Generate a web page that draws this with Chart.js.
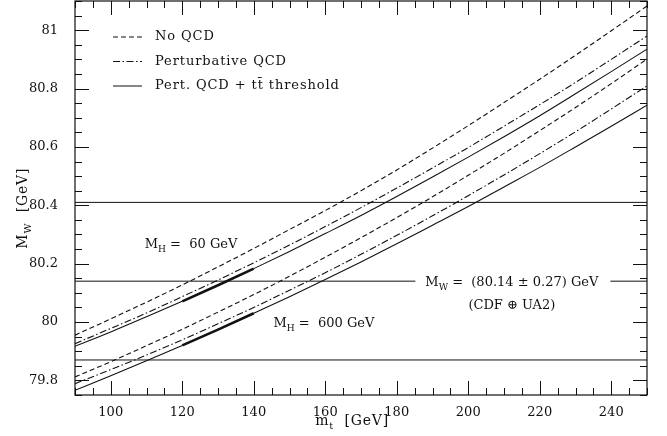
<!DOCTYPE html>
<html>
<head>
<meta charset="utf-8">
<title>M_W vs m_t</title>
<script src="https://cdn.jsdelivr.net/npm/chart.js@4/dist/chart.umd.min.js"></script>
<style>
    html, body { margin: 0; padding: 0; background: #fff; }
    #wrap { width: 667px; height: 436px; position: relative; }
</style>
</head>
<body>
<div id="wrap"><canvas id="mwChart"></canvas></div>
<script>
// ==================== DATA ====================
const topMass = [90, 100, 110, 120, 130, 140, 150, 160, 170, 180, 190, 200, 210, 220, 230, 240, 250];

// M_H = 60 GeV
const noQcd60   = [79.955, 80.011, 80.068, 80.127, 80.189, 80.252, 80.317, 80.382, 80.450, 80.521, 80.596, 80.673, 80.752, 80.832, 80.914, 80.998, 81.083];
const pertQcd60 = [79.926, 79.978, 80.031, 80.087, 80.144, 80.203, 80.264, 80.327, 80.392, 80.459, 80.528, 80.598, 80.671, 80.745, 80.821, 80.900, 80.980];
const thresh60  = [79.917, 79.966, 80.018, 80.071, 80.126, 80.183, 80.242, 80.303, 80.365, 80.430, 80.497, 80.565, 80.635, 80.707, 80.782, 80.858, 80.935];

// M_H = 600 GeV
const noQcd600   = [79.812, 79.864, 79.919, 79.975, 80.034, 80.094, 80.157, 80.222, 80.289, 80.358, 80.429, 80.503, 80.578, 80.656, 80.735, 80.817, 80.901];
const pertQcd600 = [79.789, 79.837, 79.887, 79.939, 79.994, 80.050, 80.109, 80.169, 80.232, 80.297, 80.364, 80.433, 80.504, 80.577, 80.652, 80.730, 80.809];
const thresh600  = [79.766, 79.816, 79.867, 79.920, 79.974, 80.030, 80.087, 80.146, 80.206, 80.268, 80.332, 80.396, 80.463, 80.530, 80.600, 80.671, 80.743];

// measured W mass (CDF + UA2)
const mwMeasured = 80.14;
const mwError = 0.27;

// range where the threshold curves are drawn bold
const thickRange = [120, 140];

const xTickValues = [100, 120, 140, 160, 180, 200, 220, 240];
const yTickValues = [79.8, 80, 80.2, 80.4, 80.6, 80.8, 81];

// ==================== STYLE ====================
const INK = '#111';
const SERIF = '"DejaVu Serif", serif';
const DASHED = [5, 3];
const DASHDOT = [7, 2.5, 1.5, 2.5];

function points(ys) {
    return topMass.map((x, i) => ({ x: x, y: ys[i] }));
}

function hLine(y) {
    return {
        data: [{ x: topMass[0], y: y }, { x: topMass[topMass.length - 1], y: y }],
        borderColor: INK, borderWidth: 1, pointRadius: 0, tension: 0
    };
}

function curve(ys, dash, bold) {
    const ds = {
        data: points(ys),
        borderColor: INK,
        borderWidth: 1.1,
        borderDash: dash,
        pointRadius: 0,
        cubicInterpolationMode: 'monotone'
    };
    if (bold) {
        ds.segment = {
            borderWidth: ctx => (ctx.p0.parsed.x >= thickRange[0] && ctx.p1.parsed.x <= thickRange[1]) ? 2.6 : 1.1
        };
    }
    return ds;
}

// ==================== TEXT HELPERS ====================
// parts: [{t: 'M'}, {t: 'W', sub: true}, ...]
function mathWidth(ctx, parts, size) {
    let w = 0;
    parts.forEach(p => {
        ctx.font = (p.sub ? size * 0.7 : size) + 'px ' + SERIF;
        w += ctx.measureText(p.t).width;
    });
    return w;
}

function drawMath(ctx, parts, x, y, size, align) {
    let cx = x;
    if (align === 'center') cx = x - mathWidth(ctx, parts, size) / 2;
    ctx.textAlign = 'left';
    ctx.textBaseline = 'alphabetic';
    parts.forEach(p => {
        ctx.font = (p.sub ? size * 0.7 : size) + 'px ' + SERIF;
        ctx.fillText(p.t, cx, p.sub ? y + size * 0.3 : y);
        cx += ctx.measureText(p.t).width;
    });
}

// ==================== DECORATIONS ====================
const decorations = {
    id: 'decorations',
    afterDatasetsDraw(chart) {
        const ctx = chart.ctx;
        const area = chart.chartArea;
        const xs = chart.scales.x;
        const ys = chart.scales.y;
        ctx.save();
        ctx.fillStyle = INK;
        ctx.strokeStyle = INK;

        // measured value label, with the line broken behind it
        const mwParts = [{ t: 'M' }, { t: 'W', sub: true }, { t: ' =  (80.14 ± 0.27) GeV' }];
        const mwX = xs.getPixelForValue(188);
        const mwY = ys.getPixelForValue(mwMeasured);
        const mwW = mathWidth(ctx, mwParts, 13);
        ctx.fillStyle = '#fff';
        ctx.fillRect(mwX - 10, mwY - 4, mwW + 22, 8);
        ctx.fillStyle = INK;
        drawMath(ctx, mwParts, mwX, mwY + 5, 13, 'left');
        drawMath(ctx, [{ t: '(CDF ⊕ UA2)' }], mwX + mwW / 2, mwY + 28, 13, 'center');

        // Higgs mass labels
        drawMath(ctx, [{ t: 'M' }, { t: 'H', sub: true }, { t: ' =  60 GeV' }],
            xs.getPixelForValue(109.5), ys.getPixelForValue(80.255), 13, 'left');
        drawMath(ctx, [{ t: 'M' }, { t: 'H', sub: true }, { t: ' =  600 GeV' }],
            xs.getPixelForValue(145.5), ys.getPixelForValue(79.983), 13, 'left');

        // legend
        const legend = [
            [DASHED, 'No QCD'],
            [DASHDOT, 'Perturbative QCD'],
            [[], 'Pert. QCD + tt\u0304 threshold']
        ];
        ctx.font = '13px ' + SERIF;
        ctx.textBaseline = 'middle';
        ctx.textAlign = 'left';
        ctx.letterSpacing = '0.9px';
        legend.forEach((row, i) => {
            const y = area.top + 36 + i * 24.5;
            ctx.beginPath();
            ctx.setLineDash(row[0]);
            ctx.lineWidth = 1;
            ctx.moveTo(area.left + 38, y);
            ctx.lineTo(area.left + 67, y);
            ctx.stroke();
            ctx.fillText(row[1], area.left + 80, y);
        });
        ctx.letterSpacing = '0px';
        ctx.setLineDash([]);

        // frame
        ctx.lineWidth = 1.2;
        ctx.strokeRect(area.left, area.top, area.right - area.left, area.bottom - area.top);

        // inward ticks on all four sides
        ctx.lineWidth = 1;
        ctx.beginPath();
        for (let v = 90; v <= 250; v += 5) {
            const px = Math.round(xs.getPixelForValue(v)) + 0.5;
            const len = v % 20 === 0 ? 14 : 7;
            ctx.moveTo(px, area.bottom); ctx.lineTo(px, area.bottom - len);
            ctx.moveTo(px, area.top); ctx.lineTo(px, area.top + len);
        }
        for (let k = 0; k <= 27; k++) {
            const v = 79.75 + k * 0.05;
            const py = Math.round(ys.getPixelForValue(v)) + 0.5;
            const major = Math.abs(v * 5 - Math.round(v * 5)) < 1e-6;
            const len = major ? 14 : 7;
            ctx.moveTo(area.left, py); ctx.lineTo(area.left + len, py);
            ctx.moveTo(area.right, py); ctx.lineTo(area.right - len, py);
        }
        ctx.stroke();

        // axis titles
        ctx.letterSpacing = '0.8px';
        drawMath(ctx, [{ t: 'm' }, { t: 't', sub: true }, { t: '  [GeV]' }],
            xs.getPixelForValue(167.5), 425, 14, 'center');
        ctx.translate(27, ys.getPixelForValue(80.39));
        ctx.rotate(-Math.PI / 2);
        drawMath(ctx, [{ t: 'M' }, { t: 'W', sub: true }, { t: '  [GeV]' }], 0, 0, 14, 'center');
        ctx.restore();
    }
};

// ==================== CHART ====================
function initChart() {
    const tickFont = { family: SERIF, size: 13 };
    new Chart(document.getElementById('mwChart'), {
        type: 'line',
        data: {
            datasets: [
                hLine(mwMeasured + mwError),
                hLine(mwMeasured),
                hLine(mwMeasured - mwError),
                curve(noQcd60, DASHED, false),
                curve(pertQcd60, DASHDOT, false),
                curve(thresh60, [], true),
                curve(noQcd600, DASHED, false),
                curve(pertQcd600, DASHDOT, false),
                curve(thresh600, [], true)
            ]
        },
        options: {
            responsive: true,
            maintainAspectRatio: false,
            animation: false,
            layout: { padding: { top: 1, right: 20, left: 0, bottom: 0 } },
            plugins: { legend: { display: false }, tooltip: { enabled: false } },
            scales: {
                x: {
                    type: 'linear', min: 90, max: 250,
                    grid: { display: false }, border: { display: false },
                    afterBuildTicks: s => { s.ticks = xTickValues.map(v => ({ value: v })); },
                    afterFit: s => { s.height = 41; s.paddingLeft = 0; s.paddingRight = 0; },
                    ticks: { font: tickFont, color: INK, padding: 2, maxRotation: 0, autoSkip: false }
                },
                y: {
                    type: 'linear', min: 79.75, max: 81.1,
                    grid: { display: false }, border: { display: false },
                    afterBuildTicks: s => { s.ticks = yTickValues.map(v => ({ value: v })); },
                    afterFit: s => { s.width = 75; s.paddingTop = 0; s.paddingBottom = 0; },
                    ticks: { font: tickFont, color: INK, padding: 9, callback: v => String(+v.toFixed(1)) }
                }
            }
        },
        plugins: [decorations]
    });
}

if (document.readyState === 'loading') {
    document.addEventListener('DOMContentLoaded', initChart);
} else {
    initChart();
}
</script>
</body>
</html>
